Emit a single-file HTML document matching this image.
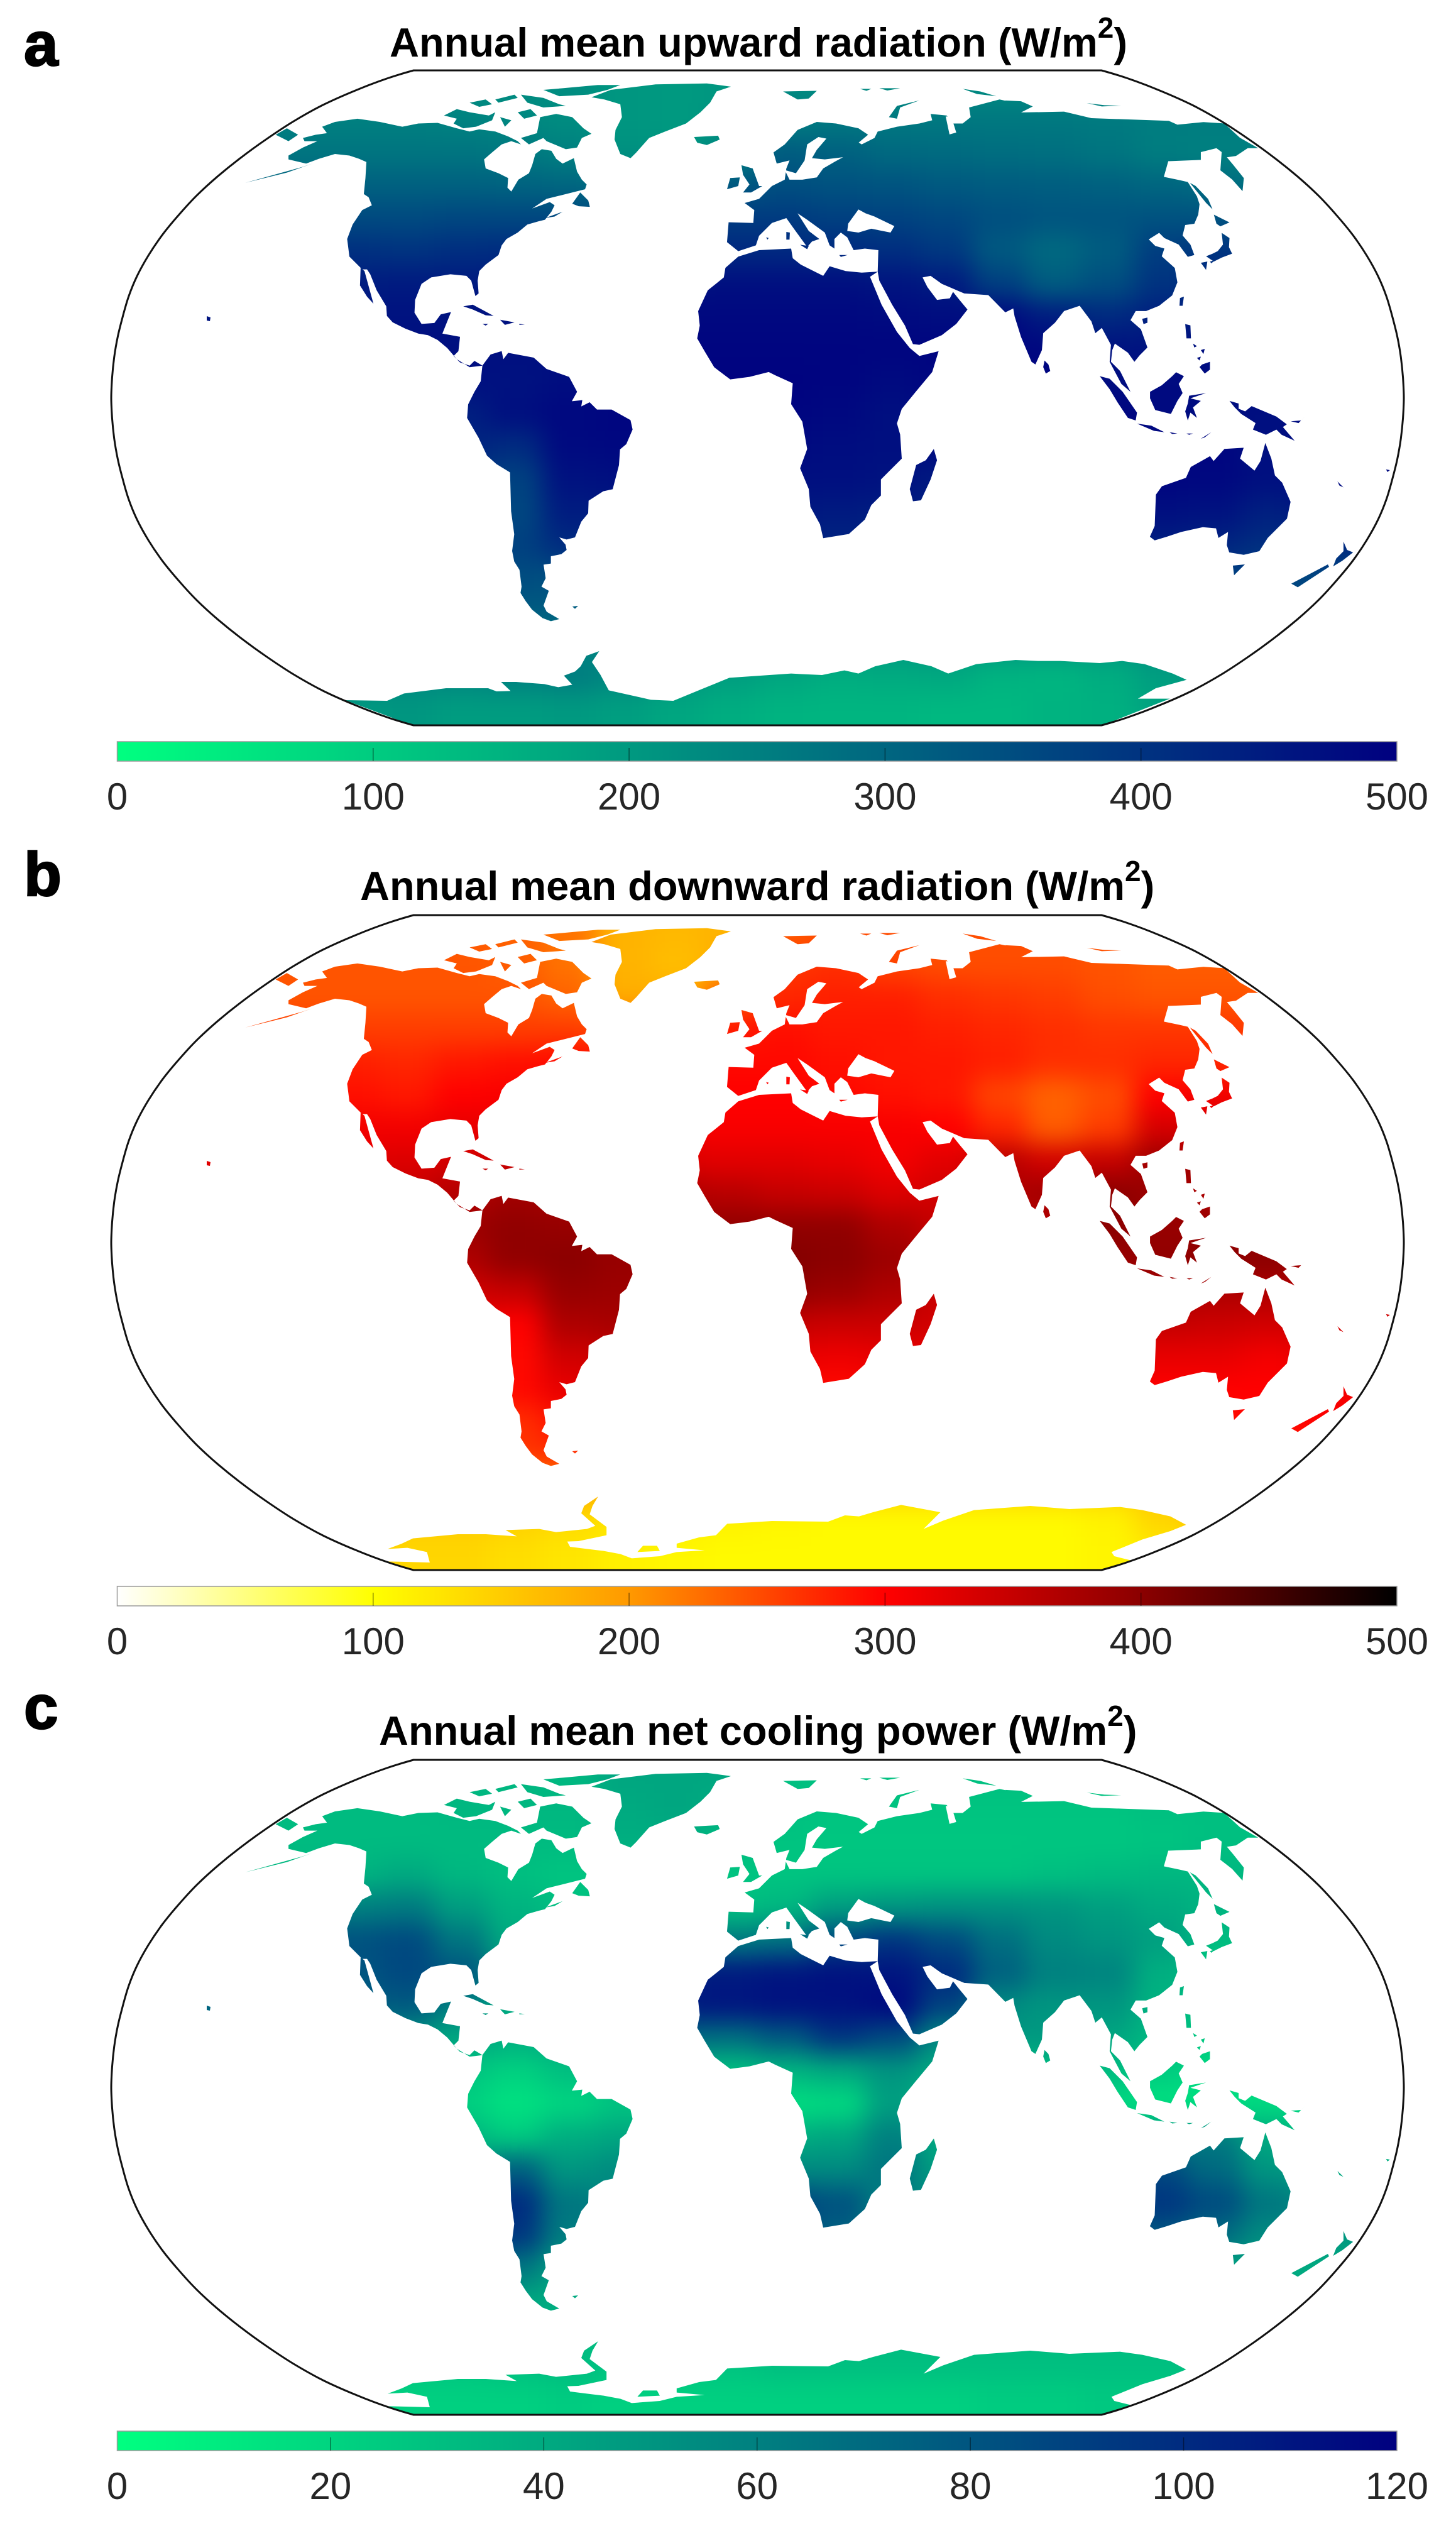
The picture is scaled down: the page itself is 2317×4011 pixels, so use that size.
<!DOCTYPE html>
<html lang="en">
<head>
<meta charset="utf-8">
<title>Annual mean radiation maps</title>
<style>
html,body{margin:0;padding:0;background:#fff}
svg{display:block}
text{font-family:"Liberation Sans",Arial,sans-serif}
.title{font-weight:700;font-size:65px;fill:#000}
.letter{font-weight:700;font-size:98px;fill:#000;stroke:#000;stroke-width:2.5px}
.tick{font-size:60px;fill:#262626;text-anchor:middle}
</style>
</head>
<body>
<svg id="figure" xmlns="http://www.w3.org/2000/svg" width="2317" height="4011" viewBox="0 0 2317 4011">
<defs>
<filter id="soft" filterUnits="userSpaceOnUse" x="0" y="0" width="2317" height="1300" color-interpolation-filters="sRGB"><feGaussianBlur stdDeviation="20"/></filter>
<g id="land-shared">
<!-- Americas -->
<g transform="translate(380 120) scale(.5102)" fill="#fff">
<path d="M155,250 200,225 245,205 205,205 200,195 240,185 275,180 260,160 300,145 370,135 440,145 510,160 560,150 620,148 680,165 720,175 750,168 800,175 840,190 870,205 880,215 850,205 820,215 790,240 765,262 770,290 810,305 840,320 838,350 850,362 872,325 905,305 915,280 925,245 945,230 975,235 990,260 1010,275 1045,258 1055,300 1070,325 1085,340 1080,355 1040,365 1000,375 960,385 915,415 970,395 985,405 975,425 955,450 935,455 900,465 870,490 835,510 820,530 810,560 770,590 750,610 745,640 748,680 738,688 725,640 710,625 660,620 600,630 570,650 550,700 548,740 570,775 610,772 630,745 662,738 645,780 635,805 690,815 685,860 670,875 690,895 720,905 735,890 760,905 720,910 680,885 650,850 620,825 590,810 560,805 520,790 480,770 462,750 460,720 430,670 410,620 400,605 385,605 370,590 345,565 338,510 355,465 385,420 415,405 405,380 390,370 395,320 398,270 375,260 345,250 300,245 250,260 210,275 155,262Z"/>
<path d="M380,600 392,610 420,712 400,690 378,655Z"/>
<path d="M1100,68 1160,45 1300,28 1460,25 1535,35 1490,50 1470,85 1440,115 1395,150 1330,175 1280,195 1240,240 1222,258 1190,245 1172,200 1175,170 1195,130 1190,90 1140,75Z"/>
<path d="M880,195 930,180 940,130 990,120 1040,130 1075,165 1100,182 1070,195 1055,225 1020,230 960,205 950,195 905,215Z M640,125 680,105 720,115 780,125 800,115 790,140 740,160 700,165 670,150 680,135Z M720,85 770,75 790,90 750,98Z M815,130 850,140 830,160Z M870,115 910,105 930,125 890,135Z M800,75 860,60 870,70 810,85Z M880,60 950,70 1000,90 1020,95 950,100 900,85Z M950,45 1010,40 1120,30 1190,30 1150,45 1090,60 1000,65Z"/>
<path d="M1040,400 1065,365 1090,390 1095,410 1060,408Z M955,445 1010,425 985,440Z"/>
<path d="M1420,192 1495,188 1500,200 1460,217 1430,210Z"/>
<path d="M115,185 150,165 185,185 155,205Z"/>
<path d="M20,335 110,310 200,285 230,275 150,303Z"/>
<path d="M700,720 730,715 795,750 770,748 730,730Z M815,762 860,770 830,778Z M875,775 892,777 875,778Z M760,775 778,775 770,780Z"/>
</g>
<path fill="#fff" transform="translate(680 600) scale(.33333)" d="M263,-55 302,-108 355,-124 363,-85 386,-116 508,-93 569,-39 677,-1 715,70 690,115 740,110 735,140 775,120 810,155 880,155 970,205 980,250 950,320 920,345 915,420 885,535 840,545 770,590 768,650 735,690 705,765 665,775 630,765 660,800 665,825 640,845 590,855 590,890 555,895 565,960 545,1000 580,1020 555,1090 570,1120 630,1155 590,1165 550,1150 500,1110 470,1070 445,1030 450,1000 440,920 415,880 405,830 415,750 400,640 395,455 330,415 285,375 245,290 190,195 195,130 225,70 255,20Z M692,1095 720,1092 705,1106Z"/>
<!-- Europe, Africa, West Asia -->
<g transform="translate(1060 120) scale(.5102)" fill="#fff">
<path d="M190,520 195,458 272,460 275,420 245,398 290,385 330,345 370,325 375,290 385,265 345,275 335,240 370,215 410,170 470,145 530,150 600,165 630,185 600,210 555,180 610,215 650,195 660,175 720,160 790,150 830,140 825,120 875,125 895,150 925,150 950,130 945,100 1040,75 1100,88 1100,600 1058,739 1005,685 930,680 895,665 860,650 825,625 800,630 815,660 845,700 885,695 895,675 915,700 940,730 905,775 860,810 790,840 770,838 745,780 705,715 665,640 660,612 662,545 620,540 585,545 565,505 545,490 525,510 525,540 510,530 495,490 440,450 410,430 445,485 478,510 455,518 440,535 400,480 375,445 330,460 290,500 280,530 225,548Z"/>
<path d="M225,565 290,545 390,540 395,570 420,590 460,610 490,625 510,595 560,610 610,615 660,612 636,628 672,715 720,800 760,850 790,875 850,860 830,925 780,985 735,1040 720,1085 730,1120 735,1195 700,1230 670,1260 670,1310 640,1340 620,1385 570,1430 490,1443 480,1400 450,1345 445,1290 418,1225 440,1165 425,1080 390,1025 395,960 340,935 320,925 260,940 200,948 150,910 120,860 97,820 105,780 100,735 130,670 180,630 185,600Z"/>
<path d="M835,1165 845,1200 825,1260 795,1325 770,1328 760,1290 780,1215 810,1200Z"/>
<path d="M235,280 270,290 290,345 300,345 265,365 240,365 260,340 240,310Z M200,320 230,318 225,345 190,355Z"/>
<path d="M375,488 386,490 385,512 375,512Z M418,528 445,532 440,542Z M540,560 566,560 545,566Z M312,505 320,507 316,512Z"/>
<path d="M695,130 720,95 790,78 730,100 720,135Z M365,50 470,48 445,72 410,75Z M605,42 640,42 625,48Z M665,40 730,40 690,47Z M925,42 980,50 1030,65 970,58Z"/>
<path fill="#000" d="M440,215 475,192 500,197 470,232 455,258 495,262 552,255 528,268 490,290 470,318 425,325 385,325 370,295 405,305 432,265Z"/>
<path fill="#000" d="M568,462 600,418 622,430 650,440 712,470 700,490 640,478 600,490 565,485Z"/>
<path fill="#000" d="M872,128 890,130 905,178 884,184Z"/>
</g>
<!-- East Asia and Pacific -->
<g transform="translate(1600 130) scale(.41459)" fill="#fff">
<path d="M0,72 60,75 105,95 60,118 225,115 330,140 480,145 627,150 660,165 760,155 840,160 900,215 970,255 930,255 885,285 850,290 875,320 915,370 910,420 870,375 825,340 830,270 810,255 750,270 750,300 625,305 608,365 670,378 700,385 735,440 745,470 740,510 725,545 690,550 680,590 710,625 725,665 700,672 665,625 610,600 590,580 550,605 575,630 610,640 600,670 650,715 660,770 640,820 590,860 540,880 500,880 480,915 520,950 545,1020 515,1050 495,1075 470,1040 420,1005 410,1030 405,1075 440,1110 470,1170 480,1190 445,1160 400,1075 405,1010 370,945 345,965 330,920 285,860 225,880 190,925 145,965 140,1030 115,1085 100,1075 60,980 35,900 30,870 0,885Z"/>
<path d="M312,82 380,90 445,92 370,95Z"/>
<path d="M150,1070 165,1085 172,1110 155,1120 145,1095Z"/>
<path d="M362,1130 400,1140 450,1190 505,1270 500,1300 470,1290 430,1230 400,1180Z"/>
<path d="M505,1312 560,1320 610,1345 570,1340Z M630,1345 660,1350 640,1352Z M695,1350 720,1350 705,1355Z M750,1370 790,1345 765,1365Z"/>
<path d="M655,1115 685,1130 665,1160 680,1195 660,1225 635,1275 575,1260 555,1215 555,1190 600,1165 640,1130Z"/>
<path d="M705,1205 770,1195 710,1215 750,1225 720,1250 735,1290 710,1270 700,1300 690,1265 700,1235Z"/>
<path d="M690,930 710,935 712,985 695,985Z M755,1085 785,1075 785,1105 765,1120 745,1095Z M720,1005 735,1015 725,1020Z M750,1030 765,1025 760,1045Z M735,1060 750,1055 745,1070Z"/>
<path d="M860,1225 895,1235 895,1255 920,1265 945,1245 1040,1285 1080,1315 1065,1325 1110,1378 1060,1355 1040,1335 1000,1355 950,1335 960,1310 905,1275 880,1250Z"/>
<path d="M1095,1303 1135,1300 1150,1285 1125,1310Z"/>
<path d="M670,830 685,825 680,860 668,860Z M525,910 545,905 545,925 530,930Z"/>
<path d="M830,580 860,600 858,635 870,660 830,675 800,690 770,670 795,660 815,650 835,625Z M750,695 775,690 770,722Z M785,690 805,685 790,697Z M800,510 860,540 825,555 810,545Z"/>
<path d="M708,388 730,400 778,450 795,490 770,465Z"/>
</g>
<g transform="translate(1650 500) scale(.3827)" fill="#fff">
<path d="M470,925 490,880 495,750 520,715 620,680 640,635 720,590 735,610 780,560 860,555 845,600 905,650 930,610 950,535 975,600 990,670 1020,700 1055,780 1040,850 960,930 925,985 860,1000 800,990 790,960 795,905 755,930 745,890 690,885 600,905 540,925 490,940Z"/>
<path d="M815,1045 865,1040 820,1085Z"/>
<path d="M1058,1120 1210,1040 1215,1050 1085,1135Z M1275,945 1290,980 1315,990 1270,1025 1232,1048 1245,1015 1275,985Z"/>
<path d="M1250,695 1275,720 1258,712Z M1452,645 1468,648 1458,656Z"/>
</g>
<path fill="#fff" d="M329,503 335,505 334,511 329,510Z"/>
</g>
<path id="antarctica-ice-shelf" fill="#fff" transform="translate(500 1000) scale(.89286 .33333)" d="M55,342 130,345 160,310 235,285 310,285 325,300 350,298 333,255 360,255 410,265 435,280 460,268 445,225 465,205 475,180 485,130 508,108 495,160 510,220 525,295 600,340 640,345 690,290 740,235 850,215 905,222 945,200 970,215 1000,180 1050,150 1100,180 1130,215 1180,170 1250,150 1290,155 1330,155 1400,165 1440,155 1480,170 1530,215 1555,245 1500,285 1468,335 1525,335 1405,462 175,462Z"/>
<path id="antarctica-coast" fill="#fff" transform="translate(550 952) scale(.89286 .33333)" d="M75,505 100,480 120,455 200,435 250,435 305,445 285,415 345,410 375,425 430,410 445,395 420,335 425,300 450,255 440,300 435,340 465,400 465,440 415,468 395,470 400,495 430,505 460,515 490,530 510,550 560,540 590,520 640,512 590,500 590,480 630,450 660,440 680,385 760,372 860,375 890,345 915,350 940,330 990,295 1060,330 1030,410 1065,370 1120,320 1220,300 1290,315 1380,305 1420,320 1470,350 1498,390 1470,420 1420,460 1365,520 1370,540 1400,560 1350,607 120,607 75,565 150,570 145,520 110,500Z M530,490 555,490 560,515 520,520Z"/>
<mask id="mask-a" maskUnits="userSpaceOnUse" x="0" y="0" width="2317" height="1300"><use href="#land-shared"/><use href="#antarctica-ice-shelf"/></mask>
<mask id="mask-bc" maskUnits="userSpaceOnUse" x="0" y="0" width="2317" height="1300"><use href="#land-shared"/><use href="#antarctica-coast"/></mask>
</defs>
</svg>
<script>
/* Panel values: rows north to south, columns west to east */
const upwardRadiation = [
[225,225,225,225,225,225,225,225,225,205,200,205,230,230,230,230,230,230,230,230,230,230,230,230],
[250,250,250,250,250,250,245,235,225,205,200,210,255,265,265,265,265,265,260,255,255,255,255,255],
[270,270,270,270,270,270,270,265,250,215,210,240,320,310,295,290,285,280,270,255,250,250,250,250],
[310,310,310,310,310,310,310,305,300,280,280,330,345,340,335,325,320,315,310,300,290,280,280,280],
[360,360,360,360,355,355,360,360,360,370,380,385,385,375,370,360,345,335,335,340,340,330,330,330],
[410,410,410,410,405,400,410,415,415,415,415,420,420,415,410,390,325,295,320,380,400,400,400,400],
[440,440,440,440,445,450,450,450,450,450,465,470,470,470,460,450,375,320,345,400,420,420,420,420],
[460,460,460,460,460,465,465,465,465,470,485,485,485,485,480,475,480,445,420,440,450,450,450,450],
[470,470,470,470,470,470,470,470,470,480,490,490,490,490,490,490,490,485,465,460,470,470,470,470],
[480,480,480,480,480,480,470,465,475,480,490,495,495,490,480,490,490,490,475,480,480,480,480,480],
[480,480,480,480,480,480,440,470,485,490,490,490,490,485,470,490,490,490,490,480,470,470,480,480],
[480,480,480,480,480,480,430,415,480,485,480,480,480,475,470,480,480,480,490,490,490,470,480,480],
[480,480,480,480,480,480,400,370,465,470,470,470,470,470,465,450,470,470,490,490,485,470,480,480],
[470,470,470,470,470,470,400,360,445,450,450,450,455,450,445,440,450,470,470,470,465,440,470,470],
[450,450,450,450,450,450,400,375,415,420,430,430,440,430,420,420,430,430,440,440,430,410,420,420],
[380,380,380,380,380,380,380,350,345,360,380,380,400,400,400,400,400,400,400,380,370,365,360,360],
[320,320,320,320,320,320,320,325,320,320,330,330,330,330,330,330,330,330,340,350,350,360,360,360],
[250,250,250,250,250,250,250,245,245,240,225,215,215,210,210,210,210,210,210,225,230,230,230,230],
[230,230,230,230,235,235,240,250,255,235,205,190,175,160,165,170,150,145,160,190,210,210,210,210],
[190,190,190,190,200,205,195,195,200,190,175,160,150,145,145,140,140,150,155,180,190,190,190,190]
];
const downwardRadiation = [
[240,240,240,240,240,240,240,235,225,175,170,175,240,250,250,250,250,250,250,250,250,250,250,250],
[245,245,245,245,245,245,245,240,225,175,165,180,265,270,255,250,250,250,245,240,240,240,240,240],
[245,245,245,245,245,245,245,245,235,180,180,240,275,280,280,270,265,260,250,245,245,245,245,245],
[260,260,260,260,260,260,260,260,260,250,255,285,290,285,285,280,275,270,265,265,265,260,260,260],
[285,285,285,285,280,275,285,290,295,295,295,295,295,290,285,285,280,270,270,275,275,270,270,270],
[300,300,300,300,290,285,300,305,305,305,305,300,300,295,290,285,255,235,250,300,310,310,310,310],
[310,310,310,310,310,310,320,320,320,320,305,305,305,305,305,300,275,240,260,335,340,330,330,330],
[325,325,325,325,325,330,340,345,345,340,330,325,325,320,310,325,360,340,350,385,380,360,360,360],
[340,340,340,340,345,350,365,380,375,370,370,360,350,345,330,340,370,380,400,385,370,350,350,350],
[350,350,350,350,355,365,385,395,390,380,380,395,395,395,370,350,350,365,400,390,390,380,370,370],
[355,355,355,355,360,370,370,395,400,390,385,395,405,400,385,350,350,355,390,395,400,400,380,370],
[350,350,350,350,350,355,340,350,390,385,370,370,395,385,370,345,345,350,355,380,370,370,350,350],
[340,340,340,340,340,340,320,300,370,375,345,345,350,345,345,340,340,340,345,350,345,340,340,340],
[320,320,320,320,320,320,310,295,340,350,320,320,320,315,320,320,320,320,320,320,320,310,320,320],
[310,310,310,310,310,310,300,295,320,320,310,310,300,295,310,310,310,310,310,300,300,300,310,310],
[290,290,290,290,290,290,290,270,290,295,300,300,300,300,300,300,300,300,300,295,290,300,300,300],
[270,270,270,270,270,270,270,265,270,270,270,270,270,270,270,270,270,270,270,270,270,270,270,270],
[190,190,190,190,190,190,190,185,185,180,170,165,160,155,150,150,150,150,150,160,170,170,170,170],
[155,155,155,155,155,150,150,145,135,125,118,112,108,105,105,105,105,105,112,140,165,165,165,165],
[140,140,140,140,140,140,140,132,125,115,108,105,105,105,105,105,105,105,110,120,130,130,130,130]
];
const netCoolingPower = [
[34,34,34,34,34,34,34,34,34,42,42,42,30,30,30,30,30,30,30,30,30,30,30,30],
[32,32,32,32,32,32,34,34,34,40,42,38,30,28,28,28,28,28,28,30,30,30,30,30],
[32,32,32,32,32,32,32,32,32,38,38,32,28,27,27,27,27,27,27,28,30,30,30,30],
[34,34,34,34,36,40,34,30,28,28,28,28,28,28,28,28,28,30,32,34,34,34,34,34],
[46,46,46,46,60,62,46,36,30,28,28,30,34,46,50,52,52,50,45,40,36,32,32,32],
[70,70,70,70,82,85,65,40,36,34,50,62,66,85,95,85,68,55,50,45,32,30,30,30],
[80,80,80,80,80,86,80,50,40,60,105,108,110,112,110,100,75,60,58,38,26,26,26,26],
[75,75,75,75,75,78,60,40,45,95,108,110,112,112,116,90,55,50,50,36,28,28,28,28],
[55,55,55,55,55,50,42,38,40,75,70,68,78,95,85,55,48,48,42,34,26,26,26,26],
[35,35,35,35,35,35,28,22,30,35,30,30,35,40,50,40,30,30,32,24,18,18,22,22],
[25,25,25,25,25,25,22,14,20,28,25,22,16,18,45,30,22,20,18,14,14,18,18,18],
[30,30,30,30,30,30,35,25,38,42,40,36,38,42,60,40,30,30,40,55,62,40,30,30],
[40,40,40,40,40,40,55,75,50,55,48,60,55,55,65,45,40,50,75,85,70,50,40,40],
[50,50,50,50,50,50,70,100,65,55,60,85,90,82,60,55,50,65,85,95,85,65,50,50],
[50,50,50,50,50,50,60,95,62,58,55,70,85,75,55,50,50,60,72,80,70,55,50,50],
[45,45,45,45,45,45,50,65,45,40,45,50,50,50,45,45,45,50,55,55,45,40,40,40],
[40,40,40,40,40,40,40,42,40,40,40,40,40,40,40,40,40,40,40,40,40,40,40,40],
[32,32,32,32,32,32,32,35,32,32,32,32,32,32,32,32,32,32,32,32,32,40,40,40],
[30,30,30,30,30,28,28,30,32,28,28,28,30,30,30,30,30,30,30,30,30,30,30,30],
[24,24,24,24,24,22,22,22,24,22,22,22,22,22,22,22,24,24,26,26,26,26,26,26]
];
const radiationTicks = [0,100,200,300,400,500];
const coolingTicks = [0,20,40,60,80,100,120];
const panelTitles = ["Annual mean upward radiation (W/m","Annual mean downward radiation (W/m","Annual mean net cooling power (W/m"];
const panelLetters = ["a","b","c"];

/* Robinson projection table (fixes the map frame) */
const robinsonWidth = [1,.9986,.9954,.99,.9822,.973,.96,.9427,.9216,.8962,.8679,.835,.7986,.7597,.7186,.6732,.6213,.5722,.5322];
const robinsonHeight = [0,.062,.124,.186,.248,.31,.372,.434,.4958,.5571,.6176,.6769,.7346,.7903,.8435,.8936,.9394,.9761,1];

const SVG_NS = "http://www.w3.org/2000/svg";
const svg = document.getElementById("figure");
const MAP = {left:177, right:2234, top:112, bottom:1154};
const BAR = {left:186.5, right:2223, top:1180, bottom:1211};

function make(tag, parent){
  const el = document.createElementNS(SVG_NS, tag);
  parent.appendChild(el);
  return el;
}
function lerp(a,b,t){return a+(b-a)*t;}
function rampColor(stops, t){
  t = Math.max(0, Math.min(1, t));
  for(let i=1;i<stops.length;i++){
    if(t<=stops[i][0]){
      const s0=stops[i-1], s1=stops[i], f=(t-s0[0])/(s1[0]-s0[0]);
      return "rgb("+Math.round(lerp(s0[1],s1[1],f))+","+Math.round(lerp(s0[2],s1[2],f))+","+Math.round(lerp(s0[3],s1[3],f))+")";
    }
  }
  const l=stops[stops.length-1];
  return "rgb("+l[1]+","+l[2]+","+l[3]+")";
}
const greenBlueRamp = [[0,0,255,128],[1,0,0,128]];
const hotRamp = [[0,255,255,255],[.2,255,255,0],[.4,255,153,0],[.6,255,0,0],[.8,139,0,0],[1,0,0,0]];

function framePath(){
  const cx=(MAP.left+MAP.right)/2, cy=(MAP.top+MAP.bottom)/2, hw=(MAP.right-MAP.left)/2, hh=(MAP.bottom-MAP.top)/2;
  const pts=[];
  for(let i=robinsonWidth.length-1;i>=0;i--){pts.push([cx+hw*robinsonWidth[i],cy-hh*robinsonHeight[i]]);}
  for(let i=1;i<robinsonWidth.length;i++){pts.push([cx+hw*robinsonWidth[i],cy+hh*robinsonHeight[i]]);}
  for(let i=robinsonWidth.length-1;i>=0;i--){pts.push([cx-hw*robinsonWidth[i],cy+hh*robinsonHeight[i]]);}
  for(let i=1;i<robinsonWidth.length;i++){pts.push([cx-hw*robinsonWidth[i],cy-hh*robinsonHeight[i]]);}
  let d="M"+pts[0][0].toFixed(1)+" "+pts[0][1].toFixed(1);
  const n=pts.length;
  for(let i=0;i<n;i++){
    const p0=pts[(i-1+n)%n],p1=pts[i],p2=pts[(i+1)%n],p3=pts[(i+2)%n];
    const flat=Math.abs(p1[1]-p2[1])<.01;
    if(flat){d+="L"+p2[0].toFixed(1)+" "+p2[1].toFixed(1);continue;}
    const useA=Math.abs(p0[1]-p1[1])>.01, useB=Math.abs(p2[1]-p3[1])>.01;
    const c1=useA?[p1[0]+(p2[0]-p0[0])/6,p1[1]+(p2[1]-p0[1])/6]:p1;
    const c2=useB?[p2[0]-(p3[0]-p1[0])/6,p2[1]-(p3[1]-p1[1])/6]:p2;
    d+="C"+c1[0].toFixed(1)+" "+c1[1].toFixed(1)+" "+c2[0].toFixed(1)+" "+c2[1].toFixed(1)+" "+p2[0].toFixed(1)+" "+p2[1].toFixed(1);
  }
  return d+"Z";
}

function drawPanel(opts){
  const panel = make("g", svg);
  panel.setAttribute("transform","translate(0 "+opts.offset+")");
  
  

  const landGroup = make("g", panel);
  landGroup.setAttribute("mask","url(#"+opts.mask+")");
  
  
  const soft = make("g", landGroup);
  soft.setAttribute("filter","url(#soft)");

  const rows = opts.values.length, cols = opts.values[0].length;
  const mapX = c => MAP.left + (MAP.right-MAP.left)*c/cols;
  const mapY = r => MAP.top + (MAP.bottom-MAP.top)*r/rows;
  const colorOf = v => rampColor(opts.ramp, v/opts.max);
  opts.values.forEach((row,r)=>{
    row.forEach((v,c)=>{
      const cell = make("rect", soft);
      const x0 = c===0 ? mapX(c)-90 : mapX(c);
      const x1 = c===cols-1 ? mapX(c+1)+90 : mapX(c+1)+1;
      const y0 = r===0 ? mapY(r)-90 : mapY(r);
      const y1 = r===rows-1 ? mapY(r+1)+90 : mapY(r+1)+1;
      cell.setAttribute("x",x0);
      cell.setAttribute("y",y0);
      cell.setAttribute("width",x1-x0);
      cell.setAttribute("height",y1-y0);
      cell.setAttribute("fill",colorOf(v));
      
      
    });
  });

  const frame = make("path", panel);
  frame.setAttribute("d",framePath());
  frame.setAttribute("fill","none");
  frame.setAttribute("stroke","#111");
  frame.setAttribute("stroke-width","3");
  
  

  const title = make("text", panel);
  title.setAttribute("class","title");
  title.setAttribute("x",opts.titleX);
  title.setAttribute("y",opts.titleY);
  
  
  title.appendChild(document.createTextNode(opts.title));
  const sup = make("tspan", title);
  sup.setAttribute("font-size","46");
  sup.setAttribute("dy","-30");
  sup.textContent="2";
  const closeParen = make("tspan", title);
  closeParen.setAttribute("dy","30");
  closeParen.textContent=")";

  const letter = make("text", panel);
  letter.setAttribute("class","letter");
  letter.setAttribute("x",38);
  letter.setAttribute("y",opts.letterY);
  
  
  letter.textContent=opts.letter;

  /* colour bar */
  const barX = v => BAR.left + (BAR.right-BAR.left)*v/opts.max;
  const gradId = "bar-gradient-"+opts.key;
  const grad = make("linearGradient", panel);
  grad.setAttribute("id",gradId);
  for(let i=0;i<=40;i++){
    const stop = make("stop", grad);
    stop.setAttribute("offset",(i/40));
    stop.setAttribute("stop-color",rampColor(opts.ramp,i/40));
  }
  const bar = make("rect", panel);
  bar.setAttribute("x",BAR.left);
  bar.setAttribute("y",BAR.top);
  bar.setAttribute("width",BAR.right-BAR.left);
  bar.setAttribute("height",BAR.bottom-BAR.top);
  bar.setAttribute("fill","url(#"+gradId+")");
  bar.setAttribute("stroke","#9a9a9a");
  bar.setAttribute("stroke-width","1.5");
  
  

  opts.ticks.forEach((v,i)=>{
    if(i>0 && i<opts.ticks.length-1){
      const tick = make("line", panel);
      tick.setAttribute("x1",barX(v));
      tick.setAttribute("x2",barX(v));
      tick.setAttribute("y1",BAR.top+10);
      tick.setAttribute("y2",BAR.bottom);
      tick.setAttribute("stroke","rgba(0,0,0,.45)");
      tick.setAttribute("stroke-width","1.5");
      
      
    }
    const label = make("text", panel);
    label.setAttribute("class","tick");
    label.setAttribute("x",barX(v));
    label.setAttribute("y",1288);
    
    
    label.textContent=String(v);
  });
}

drawPanel({key:"upward",offset:0,mask:"mask-a",values:upwardRadiation,ramp:greenBlueRamp,max:500,ticks:radiationTicks,title:panelTitles[0],titleX:620,titleY:90,letter:panelLetters[0],letterY:104});
drawPanel({key:"downward",offset:1344,mask:"mask-bc",values:downwardRadiation,ramp:hotRamp,max:500,ticks:radiationTicks,title:panelTitles[1],titleX:573,titleY:88,letter:panelLetters[1],letterY:81});
drawPanel({key:"cooling",offset:2688,mask:"mask-bc",values:netCoolingPower,ramp:greenBlueRamp,max:120,ticks:coolingTicks,title:panelTitles[2],titleX:603,titleY:88,letter:panelLetters[2],letterY:62});
</script>
</body>
</html>
